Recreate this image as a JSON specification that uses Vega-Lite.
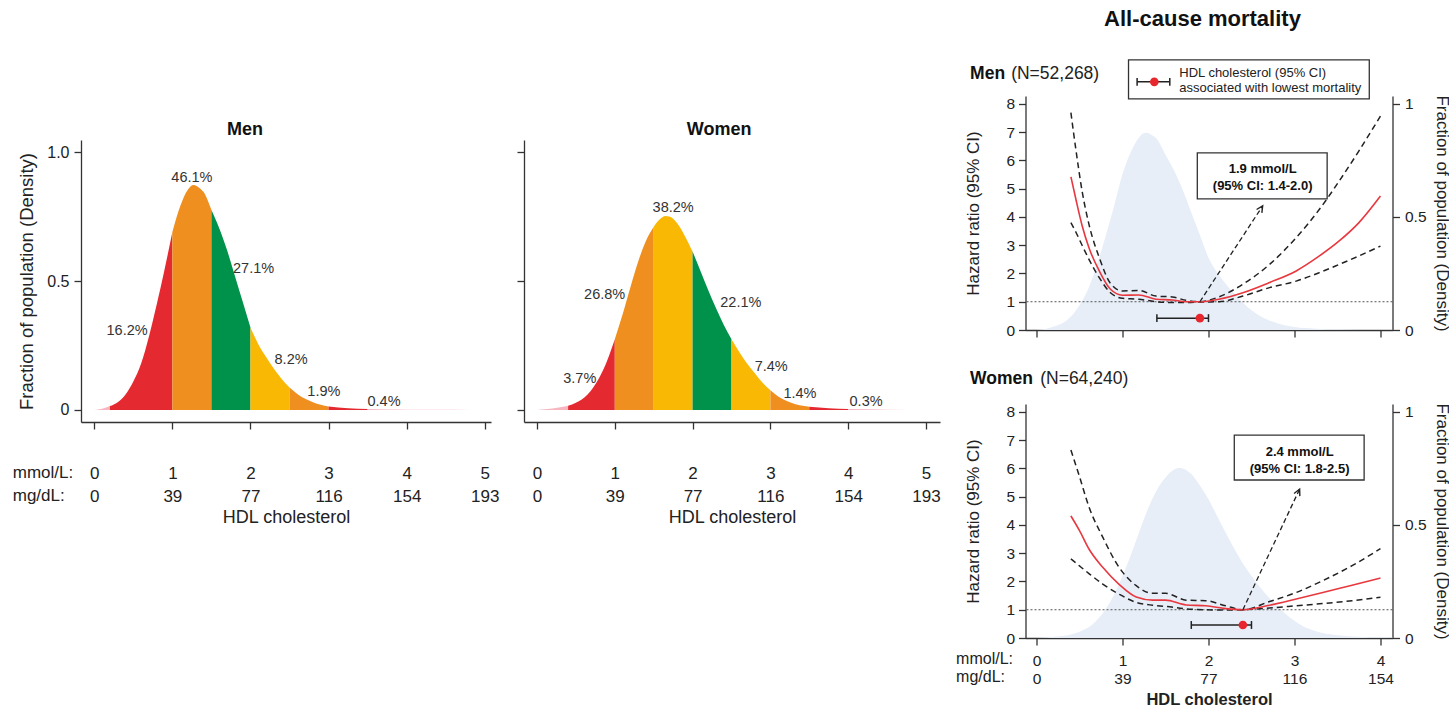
{
  "$schema": "https://vega.github.io/schema/vega-lite/v6.json",
  "padding": {"left": 12, "top": 7, "right": 0, "bottom": 0},
  "autosize": {"type": "pad"},
  "spacing": 14.5,
  "config": {
    "view": {"stroke": null},
    "font": "Liberation Sans",
    "axis": {"grid": false, "domainColor": "#333", "tickColor": "#333", "domainWidth": 1.3, "tickWidth": 1.3, "tickSize": 7, "labelColor": "#222", "titleColor": "#222", "titleFontWeight": "normal", "labelFont": "Liberation Sans", "titleFont": "Liberation Sans", "labelOverlap": false},
    "text": {"color": "#222", "font": "Liberation Sans"}
  },
  "datasets": {
    "menDens": [
      {"hdl": 0.0, "density": 0.0}, {"hdl": 0.1, "density": 0.004}, {"hdl": 0.2, "density": 0.015}, {"hdl": 0.3, "density": 0.03},
      {"hdl": 0.4, "density": 0.06}, {"hdl": 0.5, "density": 0.11}, {"hdl": 0.6, "density": 0.18}, {"hdl": 0.7, "density": 0.285},
      {"hdl": 0.8, "density": 0.41}, {"hdl": 0.9, "density": 0.545}, {"hdl": 1.0, "density": 0.69}, {"hdl": 1.1, "density": 0.79},
      {"hdl": 1.2, "density": 0.855}, {"hdl": 1.27, "density": 0.872}, {"hdl": 1.35, "density": 0.86}, {"hdl": 1.4, "density": 0.845},
      {"hdl": 1.5, "density": 0.775}, {"hdl": 1.6, "density": 0.705}, {"hdl": 1.7, "density": 0.62}, {"hdl": 1.8, "density": 0.52},
      {"hdl": 1.9, "density": 0.42}, {"hdl": 2.0, "density": 0.32}, {"hdl": 2.1, "density": 0.255}, {"hdl": 2.2, "density": 0.205},
      {"hdl": 2.3, "density": 0.16}, {"hdl": 2.4, "density": 0.12}, {"hdl": 2.5, "density": 0.087}, {"hdl": 2.6, "density": 0.062},
      {"hdl": 2.7, "density": 0.043}, {"hdl": 2.8, "density": 0.03}, {"hdl": 2.9, "density": 0.02}, {"hdl": 3.0, "density": 0.013},
      {"hdl": 3.25, "density": 0.006}, {"hdl": 3.5, "density": 0.003}, {"hdl": 3.75, "density": 0.0015}, {"hdl": 4.0, "density": 0.001},
      {"hdl": 4.4, "density": 0.0005}, {"hdl": 4.83, "density": 0.0}
    ],
    "womenDens": [
      {"hdl": 0.0, "density": 0.0}, {"hdl": 0.2, "density": 0.005}, {"hdl": 0.4, "density": 0.016}, {"hdl": 0.5, "density": 0.028},
      {"hdl": 0.65, "density": 0.06}, {"hdl": 0.8, "density": 0.125}, {"hdl": 0.9, "density": 0.19}, {"hdl": 1.0, "density": 0.274},
      {"hdl": 1.1, "density": 0.37}, {"hdl": 1.2, "density": 0.475}, {"hdl": 1.3, "density": 0.575}, {"hdl": 1.4, "density": 0.655},
      {"hdl": 1.5, "density": 0.71}, {"hdl": 1.6, "density": 0.745}, {"hdl": 1.65, "density": 0.752}, {"hdl": 1.7, "density": 0.75},
      {"hdl": 1.8, "density": 0.725}, {"hdl": 1.9, "density": 0.675}, {"hdl": 2.0, "density": 0.614}, {"hdl": 2.1, "density": 0.54},
      {"hdl": 2.2, "density": 0.465}, {"hdl": 2.3, "density": 0.395}, {"hdl": 2.4, "density": 0.33}, {"hdl": 2.5, "density": 0.274},
      {"hdl": 2.6, "density": 0.225}, {"hdl": 2.7, "density": 0.18}, {"hdl": 2.8, "density": 0.142}, {"hdl": 2.9, "density": 0.105},
      {"hdl": 3.0, "density": 0.076}, {"hdl": 3.1, "density": 0.052}, {"hdl": 3.25, "density": 0.03}, {"hdl": 3.5, "density": 0.012},
      {"hdl": 3.75, "density": 0.006}, {"hdl": 4.0, "density": 0.003}, {"hdl": 4.5, "density": 0.001}, {"hdl": 5.04, "density": 0.0}
    ],
    "menPct": [
      {"hdl": 0.42, "density": 0.306, "pct": "16.2%"}, {"hdl": 1.25, "density": 0.9, "pct": "46.1%"},
      {"hdl": 2.04, "density": 0.546, "pct": "27.1%"}, {"hdl": 2.52, "density": 0.194, "pct": "8.2%"},
      {"hdl": 2.94, "density": 0.07, "pct": "1.9%"}, {"hdl": 3.71, "density": 0.031, "pct": "0.4%"}
    ],
    "womenPct": [
      {"hdl": 0.55, "density": 0.12, "pct": "3.7%"}, {"hdl": 0.87, "density": 0.446, "pct": "26.8%"},
      {"hdl": 1.75, "density": 0.783, "pct": "38.2%"}, {"hdl": 2.62, "density": 0.415, "pct": "22.1%"},
      {"hdl": 3.01, "density": 0.167, "pct": "7.4%"}, {"hdl": 3.38, "density": 0.062, "pct": "1.4%"},
      {"hdl": 4.23, "density": 0.031, "pct": "0.3%"}
    ],
    "menHR": [
      {"hdl": 0.40, "hr": 5.42, "lo": 3.80, "hi": 7.69}, {"hdl": 0.46, "hr": 4.60, "lo": 3.45, "hi": 6.34},
      {"hdl": 0.53, "hr": 3.70, "lo": 3.00, "hi": 4.92}, {"hdl": 0.61, "hr": 2.91, "lo": 2.50, "hi": 3.74},
      {"hdl": 0.73, "hr": 2.09, "lo": 1.85, "hi": 2.56}, {"hdl": 0.86, "hr": 1.44, "lo": 1.32, "hi": 1.65},
      {"hdl": 1.00, "hr": 1.23, "lo": 1.12, "hi": 1.38}, {"hdl": 1.19, "hr": 1.24, "lo": 1.09, "hi": 1.40},
      {"hdl": 1.39, "hr": 1.09, "lo": 1.00, "hi": 1.20}, {"hdl": 1.58, "hr": 1.06, "lo": 0.97, "hi": 1.17},
      {"hdl": 1.74, "hr": 1.00, "lo": 0.97, "hi": 1.05}, {"hdl": 1.90, "hr": 1.00, "lo": 0.99, "hi": 1.00},
      {"hdl": 2.12, "hr": 1.09, "lo": 1.00, "hi": 1.17}, {"hdl": 2.40, "hr": 1.32, "lo": 1.20, "hi": 1.62},
      {"hdl": 2.71, "hr": 1.68, "lo": 1.50, "hi": 2.32}, {"hdl": 3.02, "hr": 2.09, "lo": 1.73, "hi": 3.27},
      {"hdl": 3.29, "hr": 2.62, "lo": 2.03, "hi": 4.27}, {"hdl": 3.52, "hr": 3.15, "lo": 2.32, "hi": 5.27},
      {"hdl": 3.75, "hr": 3.80, "lo": 2.62, "hi": 6.34}, {"hdl": 4.00, "hr": 4.74, "lo": 2.97, "hi": 7.57}
    ],
    "womenHR": [
      {"hdl": 0.40, "hr": 4.32, "lo": 2.80, "hi": 6.65}, {"hdl": 0.50, "hr": 3.80, "lo": 2.55, "hi": 5.71},
      {"hdl": 0.61, "hr": 3.15, "lo": 2.28, "hi": 4.64}, {"hdl": 0.77, "hr": 2.50, "lo": 1.91, "hi": 3.57},
      {"hdl": 0.96, "hr": 1.90, "lo": 1.55, "hi": 2.50}, {"hdl": 1.16, "hr": 1.45, "lo": 1.26, "hi": 1.85},
      {"hdl": 1.35, "hr": 1.34, "lo": 1.16, "hi": 1.58}, {"hdl": 1.50, "hr": 1.34, "lo": 1.12, "hi": 1.58},
      {"hdl": 1.74, "hr": 1.17, "lo": 1.03, "hi": 1.34}, {"hdl": 1.97, "hr": 1.14, "lo": 1.00, "hi": 1.32},
      {"hdl": 2.20, "hr": 1.04, "lo": 0.99, "hi": 1.14}, {"hdl": 2.40, "hr": 1.00, "lo": 1.00, "hi": 1.00},
      {"hdl": 2.71, "hr": 1.16, "lo": 1.06, "hi": 1.29}, {"hdl": 3.02, "hr": 1.38, "lo": 1.14, "hi": 1.61},
      {"hdl": 3.33, "hr": 1.61, "lo": 1.22, "hi": 2.03}, {"hdl": 3.67, "hr": 1.87, "lo": 1.32, "hi": 2.56},
      {"hdl": 4.00, "hr": 2.12, "lo": 1.44, "hi": 3.16}
    ],
    "menOpt": [{"est": 1.9, "lo": 1.4, "hi": 2.0}],
    "womenOpt": [{"est": 2.4, "lo": 1.8, "hi": 2.5}]
  },
  "hconcat": [
    {
      "bounds": "flush",
      "spacing": 0,
      "vconcat": [
        {"width": 859, "height": 44, "data": {"values": []}, "mark": "point"},
        {
          "bounds": "flush",
          "spacing": 33,
          "hconcat": [
            {
              "width": 410, "height": 282,
              "layer": [
                {
                  "data": {"name": "menDens"},
                  "encoding": {
                    "x": {"field": "hdl", "type": "quantitative", "scale": {"domain": [-0.17, 5.08], "nice": false, "zero": false},
                      "axis": {"values": [0, 1, 2, 3, 4, 5], "format": "d", "title": "HDL cholesterol", "labelExpr": "[datum.label, ['0','39','77','116','154','193'][datum.value]]", "labelFontSize": 17, "labelLineHeight": 23, "labelPadding": 36, "titleFontSize": 18, "titlePadding": 4, "labelFlush": false}},
                    "y": {"field": "density", "type": "quantitative", "stack": null, "scale": {"domain": [-0.047, 1.047], "nice": false, "zero": false},
                      "axis": {"values": [0, 0.5, 1], "labelExpr": "datum.value == 0 ? '0' : format(datum.value, '.1f')", "title": "Fraction of population (Density)", "labelFontSize": 16, "labelPadding": 5, "titleFontSize": 18.5, "titlePadding": 10}}
                  },
                  "layer": [
                    {"transform": [{"filter": "datum.hdl <= 0.2"}], "mark": {"type": "area", "color": "#F7B5C0", "interpolate": "monotone"}},
                    {"transform": [{"filter": "datum.hdl >= 0.2 && datum.hdl <= 1"}], "mark": {"type": "area", "color": "#E42A30", "interpolate": "monotone"}},
                    {"transform": [{"filter": "datum.hdl >= 1 && datum.hdl <= 1.5"}], "mark": {"type": "area", "color": "#EE8F1F", "interpolate": "monotone"}},
                    {"transform": [{"filter": "datum.hdl >= 1.5 && datum.hdl <= 2"}], "mark": {"type": "area", "color": "#00924A", "interpolate": "monotone"}},
                    {"transform": [{"filter": "datum.hdl >= 2 && datum.hdl <= 2.5"}], "mark": {"type": "area", "color": "#F8B804", "interpolate": "monotone"}},
                    {"transform": [{"filter": "datum.hdl >= 2.5 && datum.hdl <= 3"}], "mark": {"type": "area", "color": "#EE8F1F", "interpolate": "monotone"}},
                    {"transform": [{"filter": "datum.hdl >= 3 && datum.hdl <= 3.5"}], "mark": {"type": "area", "color": "#E42A30", "interpolate": "monotone"}},
                    {"transform": [{"filter": "datum.hdl >= 3.5"}], "mark": {"type": "area", "color": "#F7B5C0", "interpolate": "monotone"}},
                    {"data": {"name": "menPct"}, "mark": {"type": "text", "fontSize": 14.5, "color": "#333"}, "encoding": {"text": {"field": "pct", "type": "nominal"}}}
                  ]
                },
                {"data": {"values": [{"t": "Men"}]}, "mark": {"type": "text", "fontSize": 18, "fontWeight": "bold", "color": "#111", "baseline": "alphabetic"},
                  "encoding": {"x": {"datum": 1.93}, "y": {"datum": 1.066}, "text": {"field": "t", "type": "nominal"}}},
                {"data": {"values": [{"t": "mmol/L:"}]}, "mark": {"type": "text", "fontSize": 17, "align": "left", "baseline": "alphabetic"},
                  "encoding": {"x": {"datum": -1.044}, "y": {"datum": -0.265}, "text": {"field": "t", "type": "nominal"}}},
                {"data": {"values": [{"t": "mg/dL:"}]}, "mark": {"type": "text", "fontSize": 17, "align": "left", "baseline": "alphabetic"},
                  "encoding": {"x": {"datum": -1.044}, "y": {"datum": -0.354}, "text": {"field": "t", "type": "nominal"}}}
              ]
            },
            {
              "width": 416, "height": 282,
              "layer": [
                {
                  "data": {"name": "womenDens"},
                  "encoding": {
                    "x": {"field": "hdl", "type": "quantitative", "scale": {"domain": [-0.167, 5.18], "nice": false, "zero": false},
                      "axis": {"values": [0, 1, 2, 3, 4, 5], "format": "d", "title": "HDL cholesterol", "labelExpr": "[datum.label, ['0','39','77','116','154','193'][datum.value]]", "labelFontSize": 17, "labelLineHeight": 23, "labelPadding": 36, "titleFontSize": 18, "titlePadding": 4, "labelFlush": false}},
                    "y": {"field": "density", "type": "quantitative", "stack": null, "scale": {"domain": [-0.047, 1.047], "nice": false, "zero": false},
                      "axis": {"values": [0, 0.5, 1], "labels": false, "title": null}}
                  },
                  "layer": [
                    {"transform": [{"filter": "datum.hdl <= 0.4"}], "mark": {"type": "area", "color": "#F7B5C0", "interpolate": "monotone"}},
                    {"transform": [{"filter": "datum.hdl >= 0.4 && datum.hdl <= 1"}], "mark": {"type": "area", "color": "#E42A30", "interpolate": "monotone"}},
                    {"transform": [{"filter": "datum.hdl >= 1 && datum.hdl <= 1.5"}], "mark": {"type": "area", "color": "#EE8F1F", "interpolate": "monotone"}},
                    {"transform": [{"filter": "datum.hdl >= 1.5 && datum.hdl <= 2"}], "mark": {"type": "area", "color": "#F8B804", "interpolate": "monotone"}},
                    {"transform": [{"filter": "datum.hdl >= 2 && datum.hdl <= 2.5"}], "mark": {"type": "area", "color": "#00924A", "interpolate": "monotone"}},
                    {"transform": [{"filter": "datum.hdl >= 2.5 && datum.hdl <= 3"}], "mark": {"type": "area", "color": "#F8B804", "interpolate": "monotone"}},
                    {"transform": [{"filter": "datum.hdl >= 3 && datum.hdl <= 3.5"}], "mark": {"type": "area", "color": "#EE8F1F", "interpolate": "monotone"}},
                    {"transform": [{"filter": "datum.hdl >= 3.5 && datum.hdl <= 4"}], "mark": {"type": "area", "color": "#E42A30", "interpolate": "monotone"}},
                    {"transform": [{"filter": "datum.hdl >= 4"}], "mark": {"type": "area", "color": "#F7B5C0", "interpolate": "monotone"}},
                    {"data": {"name": "womenPct"}, "mark": {"type": "text", "fontSize": 14.5, "color": "#333"}, "encoding": {"text": {"field": "pct", "type": "nominal"}}}
                  ]
                },
                {"data": {"values": [{"t": "Women"}]}, "mark": {"type": "text", "fontSize": 18, "fontWeight": "bold", "color": "#111", "baseline": "alphabetic"},
                  "encoding": {"x": {"datum": 2.34}, "y": {"datum": 1.066}, "text": {"field": "t", "type": "nominal"}}}
              ]
            }
          ]
        }
      ]
    },
    {
      "bounds": "flush",
      "spacing": 74,
      "vconcat": [
        {
          "width": 367, "height": 234,
          "layer": [
            {
              "data": {"name": "menDens"},
              "mark": {"type": "area", "color": "#E7EEF8", "interpolate": "monotone", "clip": true},
              "encoding": {
                "x": {"field": "hdl", "type": "quantitative", "scale": {"domain": [-0.128, 4.14], "nice": false, "zero": false},
                  "axis": {"values": [0, 1, 2, 3, 4], "labels": false, "title": null}},
                "y": {"field": "density", "type": "quantitative", "scale": {"domain": [0, 1.035], "nice": false},
                  "axis": {"orient": "right", "values": [0, 0.5, 1], "format": "~g", "title": "Fraction of population (Density)", "labelFontSize": 15.5, "titleFontSize": 17, "labelPadding": 5, "titlePadding": 6}}
              }
            },
            {
              "layer": [
                {"data": {"name": "menHR"}, "mark": {"type": "line", "strokeDash": [6, 4], "color": "#222", "strokeWidth": 1.5, "interpolate": "monotone"},
                  "encoding": {"x": {"field": "hdl", "type": "quantitative"},
                    "y": {"field": "hi", "type": "quantitative", "scale": {"domain": [0, 8.28], "nice": false},
                      "axis": {"orient": "left", "title": "Hazard ratio (95% CI)", "values": [0, 1, 2, 3, 4, 5, 6, 7, 8], "tickCount": 9, "labelOverlap": false, "labelFontSize": 15.5, "titleFontSize": 17, "labelPadding": 4, "titlePadding": 23}}}},
                {"data": {"values": [{}]}, "mark": {"type": "rule", "strokeDash": [2, 2], "color": "#555", "strokeWidth": 1},
                  "encoding": {"y": {"datum": 1}}},
                {"data": {"name": "menHR"}, "mark": {"type": "line", "strokeDash": [6, 4], "color": "#222", "strokeWidth": 1.5, "interpolate": "monotone"},
                  "encoding": {"x": {"field": "hdl", "type": "quantitative"}, "y": {"field": "lo", "type": "quantitative"}}},
                {"data": {"name": "menHR"}, "mark": {"type": "line", "color": "#E8383F", "strokeWidth": 1.6, "interpolate": "monotone"},
                  "encoding": {"x": {"field": "hdl", "type": "quantitative"}, "y": {"field": "hr", "type": "quantitative"}}},
                {"data": {"name": "menOpt"}, "mark": {"type": "rule", "strokeDash": [5, 3], "color": "#222", "strokeWidth": 1.3},
                  "encoding": {"x": {"field": "est", "type": "quantitative"}, "y": {"datum": 1}, "x2": {"datum": 2.63}, "y2": {"datum": 4.39}}},
                {"data": {"values": [{}]}, "mark": {"type": "point", "shape": "M-0.45,0.9L0,0L0.45,0.9", "angle": 33, "filled": false, "stroke": "#222", "strokeWidth": 1.4, "size": 196, "opacity": 1},
                  "encoding": {"x": {"datum": 2.63}, "y": {"datum": 4.39}}},
                {"data": {"values": [{}]}, "mark": {"type": "rect", "fill": "white", "stroke": "#333", "strokeWidth": 1.3},
                  "encoding": {"x": {"datum": 1.87}, "x2": {"datum": 3.38}, "y": {"datum": 6.27}, "y2": {"datum": 4.64}}},
                {"data": {"values": [{}]}, "mark": {"type": "text", "text": ["1.9 mmol/L", "(95% CI: 1.4-2.0)"], "fontSize": 13, "fontWeight": "bold", "lineHeight": 17, "baseline": "alphabetic", "color": "#111"},
                  "encoding": {"x": {"datum": 2.63}, "y": {"datum": 5.57}}},
                {"data": {"name": "menOpt"}, "mark": {"type": "rule", "color": "#222", "strokeWidth": 1.5},
                  "encoding": {"x": {"field": "lo", "type": "quantitative"}, "x2": {"field": "hi"}, "y": {"datum": 0.42}}},
                {"data": {"name": "menOpt"}, "mark": {"type": "rule", "color": "#222", "strokeWidth": 1.5},
                  "encoding": {"x": {"field": "lo", "type": "quantitative"}, "y": {"datum": 0.28}, "y2": {"datum": 0.56}}},
                {"data": {"name": "menOpt"}, "mark": {"type": "rule", "color": "#222", "strokeWidth": 1.5},
                  "encoding": {"x": {"field": "hi", "type": "quantitative"}, "y": {"datum": 0.28}, "y2": {"datum": 0.56}}},
                {"data": {"name": "menOpt"}, "mark": {"type": "point", "filled": true, "color": "#E8262E", "size": 75, "opacity": 1},
                  "encoding": {"x": {"field": "est", "type": "quantitative"}, "y": {"datum": 0.42}}},
                {"data": {"values": [{}]}, "mark": {"type": "rect", "fill": "white", "stroke": "#333", "strokeWidth": 1.3},
                  "encoding": {"x": {"datum": 1.07}, "x2": {"datum": 3.87}, "y": {"datum": 9.56}, "y2": {"datum": 8.18}}},
                {"data": {"values": [{}]}, "mark": {"type": "rule", "color": "#222", "strokeWidth": 1.5},
                  "encoding": {"x": {"datum": 1.17}, "x2": {"datum": 1.55}, "y": {"datum": 8.78}}},
                {"data": {"values": [{}]}, "mark": {"type": "rule", "color": "#222", "strokeWidth": 1.5},
                  "encoding": {"x": {"datum": 1.17}, "y": {"datum": 8.64}, "y2": {"datum": 8.92}}},
                {"data": {"values": [{}]}, "mark": {"type": "rule", "color": "#222", "strokeWidth": 1.5},
                  "encoding": {"x": {"datum": 1.55}, "y": {"datum": 8.64}, "y2": {"datum": 8.92}}},
                {"data": {"values": [{}]}, "mark": {"type": "point", "filled": true, "color": "#E8262E", "size": 75, "opacity": 1},
                  "encoding": {"x": {"datum": 1.37}, "y": {"datum": 8.78}}},
                {"data": {"values": [{}]}, "mark": {"type": "text", "text": ["HDL cholesterol (95% CI)", "associated with lowest mortality"], "fontSize": 13, "lineHeight": 15, "align": "left", "baseline": "alphabetic", "color": "#222"},
                  "encoding": {"x": {"datum": 1.66}, "y": {"datum": 8.97}}},
                {"data": {"values": [{}]}, "mark": {"type": "text", "text": "Men", "fontSize": 17.5, "fontWeight": "bold", "align": "left", "baseline": "alphabetic", "color": "#111"},
                  "encoding": {"x": {"datum": -0.772}, "y": {"datum": 8.87}}},
                {"data": {"values": [{}]}, "mark": {"type": "text", "text": "(N=52,268)", "fontSize": 17.5, "align": "left", "baseline": "alphabetic", "color": "#222"},
                  "encoding": {"x": {"datum": -0.295}, "y": {"datum": 8.87}}},
                {"data": {"values": [{}]}, "mark": {"type": "text", "text": "All-cause mortality", "fontSize": 22, "fontWeight": "bold", "align": "center", "baseline": "alphabetic", "color": "#111"},
                  "encoding": {"x": {"datum": 1.93}, "y": {"datum": 10.76}}}
              ]
            }
          ],
          "resolve": {"scale": {"y": "independent"}}
        },
        {
          "width": 367, "height": 234,
          "layer": [
            {
              "data": {"name": "womenDens"},
              "mark": {"type": "area", "color": "#E7EEF8", "interpolate": "monotone", "clip": true},
              "encoding": {
                "x": {"field": "hdl", "type": "quantitative", "scale": {"domain": [-0.128, 4.14], "nice": false, "zero": false},
                  "axis": {"values": [0, 1, 2, 3, 4], "format": "d", "title": "HDL cholesterol", "titleFontWeight": "bold", "titleFontSize": 16.5, "titlePadding": 5, "labelExpr": "[datum.label, ['0','39','77','116','154','193'][datum.value]]", "labelFontSize": 15.5, "labelLineHeight": 18, "labelPadding": 8, "labelFlush": false}},
                "y": {"field": "density", "type": "quantitative", "scale": {"domain": [0, 1.035], "nice": false},
                  "axis": {"orient": "right", "values": [0, 0.5, 1], "format": "~g", "title": "Fraction of population (Density)", "labelFontSize": 15.5, "titleFontSize": 17, "labelPadding": 5, "titlePadding": 6}}
              }
            },
            {
              "layer": [
                {"data": {"name": "womenHR"}, "mark": {"type": "line", "strokeDash": [6, 4], "color": "#222", "strokeWidth": 1.5, "interpolate": "monotone"},
                  "encoding": {"x": {"field": "hdl", "type": "quantitative"},
                    "y": {"field": "hi", "type": "quantitative", "scale": {"domain": [0, 8.28], "nice": false},
                      "axis": {"orient": "left", "title": "Hazard ratio (95% CI)", "values": [0, 1, 2, 3, 4, 5, 6, 7, 8], "tickCount": 9, "labelOverlap": false, "labelFontSize": 15.5, "titleFontSize": 17, "labelPadding": 4, "titlePadding": 23}}}},
                {"data": {"values": [{}]}, "mark": {"type": "rule", "strokeDash": [2, 2], "color": "#555", "strokeWidth": 1},
                  "encoding": {"y": {"datum": 1}}},
                {"data": {"name": "womenHR"}, "mark": {"type": "line", "strokeDash": [6, 4], "color": "#222", "strokeWidth": 1.5, "interpolate": "monotone"},
                  "encoding": {"x": {"field": "hdl", "type": "quantitative"}, "y": {"field": "lo", "type": "quantitative"}}},
                {"data": {"name": "womenHR"}, "mark": {"type": "line", "color": "#E8383F", "strokeWidth": 1.6, "interpolate": "monotone"},
                  "encoding": {"x": {"field": "hdl", "type": "quantitative"}, "y": {"field": "hr", "type": "quantitative"}}},
                {"data": {"name": "womenOpt"}, "mark": {"type": "rule", "strokeDash": [5, 3], "color": "#222", "strokeWidth": 1.3},
                  "encoding": {"x": {"field": "est", "type": "quantitative"}, "y": {"datum": 1}, "x2": {"datum": 3.06}, "y2": {"datum": 5.27}}},
                {"data": {"values": [{}]}, "mark": {"type": "point", "shape": "M-0.45,0.9L0,0L0.45,0.9", "angle": 25, "filled": false, "stroke": "#222", "strokeWidth": 1.4, "size": 196, "opacity": 1},
                  "encoding": {"x": {"datum": 3.06}, "y": {"datum": 5.27}}},
                {"data": {"values": [{}]}, "mark": {"type": "rect", "fill": "white", "stroke": "#333", "strokeWidth": 1.3},
                  "encoding": {"x": {"datum": 2.30}, "x2": {"datum": 3.81}, "y": {"datum": 7.18}, "y2": {"datum": 5.59}}},
                {"data": {"values": [{}]}, "mark": {"type": "text", "text": ["2.4 mmol/L", "(95% CI: 1.8-2.5)"], "fontSize": 13, "fontWeight": "bold", "lineHeight": 17, "baseline": "alphabetic", "color": "#111"},
                  "encoding": {"x": {"datum": 3.06}, "y": {"datum": 6.45}}},
                {"data": {"name": "womenOpt"}, "mark": {"type": "rule", "color": "#222", "strokeWidth": 1.5},
                  "encoding": {"x": {"field": "lo", "type": "quantitative"}, "x2": {"field": "hi"}, "y": {"datum": 0.46}}},
                {"data": {"name": "womenOpt"}, "mark": {"type": "rule", "color": "#222", "strokeWidth": 1.5},
                  "encoding": {"x": {"field": "lo", "type": "quantitative"}, "y": {"datum": 0.32}, "y2": {"datum": 0.6}}},
                {"data": {"name": "womenOpt"}, "mark": {"type": "rule", "color": "#222", "strokeWidth": 1.5},
                  "encoding": {"x": {"field": "hi", "type": "quantitative"}, "y": {"datum": 0.32}, "y2": {"datum": 0.6}}},
                {"data": {"name": "womenOpt"}, "mark": {"type": "point", "filled": true, "color": "#E8262E", "size": 75, "opacity": 1},
                  "encoding": {"x": {"field": "est", "type": "quantitative"}, "y": {"datum": 0.46}}},
                {"data": {"values": [{}]}, "mark": {"type": "text", "text": "Women", "fontSize": 17.5, "fontWeight": "bold", "align": "left", "baseline": "alphabetic", "color": "#111"},
                  "encoding": {"x": {"datum": -0.772}, "y": {"datum": 8.99}}},
                {"data": {"values": [{}]}, "mark": {"type": "text", "text": "(N=64,240)", "fontSize": 17.5, "align": "left", "baseline": "alphabetic", "color": "#222"},
                  "encoding": {"x": {"datum": 0.043}, "y": {"datum": 8.99}}},
                {"data": {"values": [{}]}, "mark": {"type": "text", "text": ["mmol/L:", "mg/dL:"], "fontSize": 16, "align": "left", "baseline": "alphabetic", "lineHeight": 18},
                  "encoding": {"x": {"datum": -0.935}, "y": {"datum": -0.92}}}
              ]
            }
          ],
          "resolve": {"scale": {"y": "independent"}}
        }
      ]
    }
  ]
}
